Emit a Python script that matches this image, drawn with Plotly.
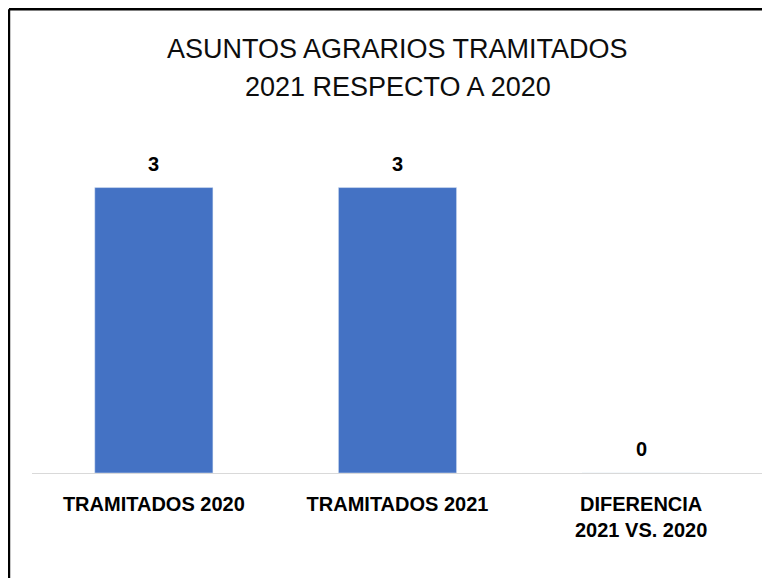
import plotly.graph_objects as go

categories = ["TRAMITADOS 2020", "TRAMITADOS 2021", "DIFERENCIA<br>2021 VS. 2020"]
values = [3, 3, 0]
value_labels = ["3", "3", "0"]

title_lines = ["ASUNTOS AGRARIOS TRAMITADOS", "2021 RESPECTO A 2020"]

fig = go.Figure(
    go.Bar(
        x=categories,
        y=values,
        marker=dict(color="#4472C4"),
        hoverinfo="x+y",
    )
)

# data labels above each bar
for cat, val, lab in zip(categories, values, value_labels):
    fig.add_annotation(
        x=cat, y=val, text=f"<b>{lab}</b>", showarrow=False,
        yanchor="bottom", yshift=11,
        font=dict(family="Arial", size=20, color="#000000"),
    )

# two-line title, Excel-like spacing
for line, ypos in zip(title_lines, [1.2722, 1.1579]):
    fig.add_annotation(
        text=line, xref="paper", yref="paper", x=0.5, y=ypos,
        xanchor="center", yanchor="middle", showarrow=False,
        font=dict(family="Arial", size=27, color="#0d0d0d"),
    )

# black frame of the chart area (cropped at right/bottom)
frame = dict(color="#000000", width=2.5)
fig.add_shape(type="line", xref="paper", yref="paper",
              x0=-0.0315, x1=1.1, y0=1.3925, y1=1.3925, line=frame)
fig.add_shape(type="line", xref="paper", yref="paper",
              x0=-0.0315, x1=-0.0315, y0=1.3925, y1=-0.5, line=frame)

fig.update_layout(
    width=762,
    height=570,
    margin=dict(l=24, r=7, t=132, b=105),
    paper_bgcolor="white",
    plot_bgcolor="white",
    bargap=0.515,
    showlegend=False,
    xaxis=dict(
        showline=True, linecolor="#d9d9d9", linewidth=1,
        ticks="", ticklabelstandoff=13,
        tickfont=dict(family="Arial", size=20, color="#000000", weight="bold"),
        showgrid=False,
    ),
    yaxis=dict(range=[0, 3.5], visible=False, showgrid=False, zeroline=False),
)

fig.write_html("out.html")
